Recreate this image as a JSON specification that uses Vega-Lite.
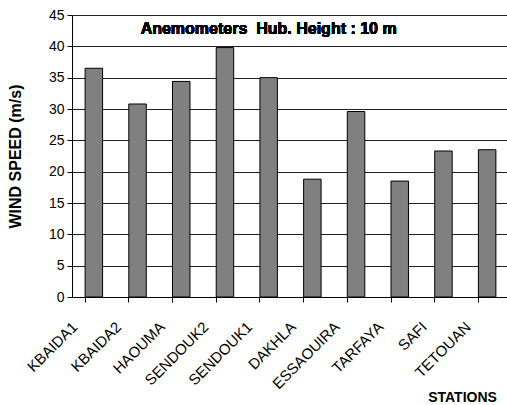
{
  "$schema": "https://vega.github.io/schema/vega-lite/v6.json",
  "width": 437,
  "height": 282,
  "autosize": "none",
  "padding": {"left": 72, "top": 15, "right": 0, "bottom": 108},
  "background": "white",
  "config": {
    "view": {"stroke": null},
    "font": "Liberation Sans"
  },
  "resolve": {"axis": {"x": "independent", "y": "independent"}},
  "data": {
    "values": [
      {"station": "KBAIDA1", "speed": 36.5},
      {"station": "KBAIDA2", "speed": 30.8},
      {"station": "HAOUMA", "speed": 34.4},
      {"station": "SENDOUK2", "speed": 39.8},
      {"station": "SENDOUK1", "speed": 35.0},
      {"station": "DAKHLA", "speed": 18.8},
      {"station": "ESSAOUIRA", "speed": 29.6},
      {"station": "TARFAYA", "speed": 18.5},
      {"station": "SAFI", "speed": 23.3},
      {"station": "TETOUAN", "speed": 23.5}
    ]
  },
  "layer": [
    {
      "mark": {"type": "bar", "fill": "#808080", "stroke": "black", "strokeWidth": 1},
      "encoding": {
        "x": {
          "field": "station", "type": "nominal", "sort": null,
          "scale": {"paddingInner": 0.6, "paddingOuter": 0.3},
          "axis": {
            "orient": "bottom",
            "bandPosition": 0,
            "labels": false,
            "title": null,
            "ticks": true,
            "tickSize": 5,
            "tickWidth": 1,
            "tickColor": "black",
            "domainColor": "black",
            "grid": false
          }
        },
        "y": {
          "field": "speed", "type": "quantitative",
          "scale": {"domain": [0, 45]},
          "axis": {
            "orient": "left",
            "values": [0, 5, 10, 15, 20, 25, 30, 35, 40, 45],
            "title": "WIND SPEED (m/s)",
            "titleFont": "Liberation Sans",
            "titleFontSize": 16,
            "titleFontWeight": "bold",
            "titleColor": "black",
            "titleX": -57,
            "titleY": 141,
            "titleAlign": "center",
            "titleBaseline": "middle",
            "labelFont": "Liberation Sans",
            "labelFontSize": 14,
            "labelColor": "black",
            "labelPadding": 3,
            "tickSize": 5,
            "tickColor": "black",
            "domainColor": "black",
            "gridColor": "#222222",
            "gridOpacity": 1
          }
        }
      }
    },
    {
      "mark": {"type": "bar", "opacity": 0},
      "encoding": {
        "x": {
          "field": "station", "type": "nominal", "sort": null,
          "axis": {
            "orient": "bottom",
            "ticks": false,
            "domain": false,
            "grid": false,
            "labelAngle": -45,
            "labelAlign": "right",
            "labelBaseline": "top",
            "labelFont": "Liberation Sans",
            "labelFontSize": 15,
            "labelColor": "black",
            "labelPadding": 22,
            "labelOffset": -24,
            "title": "STATIONS",
            "titleFont": "Liberation Sans",
            "titleFontSize": 14,
            "titleFontWeight": "bold",
            "titleColor": "black",
            "titleAlign": "center",
            "titleBaseline": "middle",
            "titleX": 390,
            "titleY": 100
          }
        },
        "y": {"field": "speed", "type": "quantitative", "axis": null}
      }
    },
    {
      "mark": {"type": "text", "font": "Liberation Sans", "fontSize": 16, "fontWeight": "bold", "fill": "black", "strokeWidth": 0, "align": "center", "baseline": "middle"},
      "encoding": {
        "x": {"datum": "SENDOUK1", "type": "nominal", "axis": null},
        "y": {"datum": 42.8, "type": "quantitative", "axis": null},
        "text": {"value": "Anemometers \u00a0Hub. Height : 10 m"}
      }
    }
  ]
}
